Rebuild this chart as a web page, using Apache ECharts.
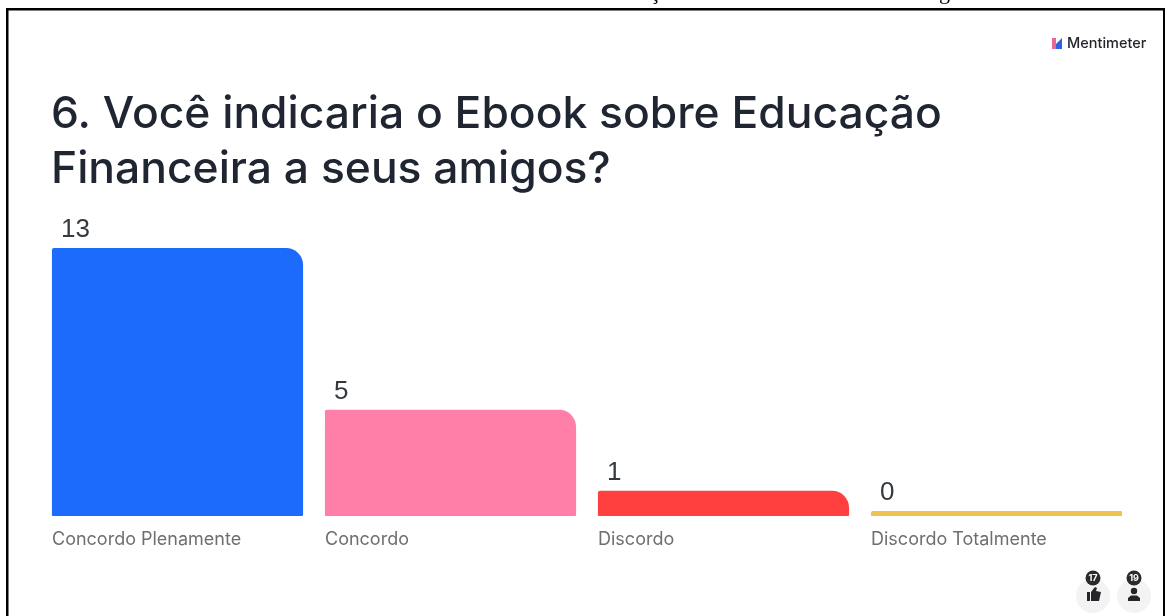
<!DOCTYPE html>
<html lang="pt-BR">
<head>
<meta charset="utf-8">
<title>Mentimeter</title>
<style>
  html, body { margin: 0; padding: 0; background: #fff; }
  #chart { width: 1166px; height: 616px; }
</style>
</head>
<body>
<div id="chart"></div>
<script src="https://cdn.jsdelivr.net/npm/echarts@6/dist/echarts.min.js"></script>
<script>
// Survey answers
const categories = ['Concordo Plenamente', 'Concordo', 'Discordo', 'Discordo Totalmente'];
const votes = [13, 5, 1, 0];
const barColors = ['#1c6bfd', '#ff7fa8', '#ff403e', '#f0c350'];
const questionTitle = '6. Você indicaria o Ebook sobre Educação\nFinanceira a seus amigos?';
const brandName = 'Mentimeter';
const reactionCount = '17';
const participantCount = '19';

const chart = echarts.init(document.getElementById('chart'), null, { renderer: 'canvas' });

// Bars rest slightly below zero so that a zero answer still shows a thin strip.
const AXIS_FLOOR = -0.25;

function renderAnswerBar(params, api) {
  const idx = api.value(0);
  const value = api.value(1);
  const top = api.coord([idx, value]);
  const base = api.coord([idx, AXIS_FLOOR]);
  const width = api.size([1, 0])[0] * 0.92;
  const left = top[0] - width / 2;
  const height = base[1] - top[1];
  const radius = value === 0 ? 1 : 17;
  return {
    type: 'group',
    children: [
      {
        type: 'rect',
        shape: { x: left, y: top[1], width: width, height: height, r: [2, radius, 1, 1] },
        style: { fill: barColors[idx] }
      },
      {
        type: 'text',
        style: {
          x: left + 9,
          y: top[1] - 18,
          text: String(value),
          fill: '#333a40',
          font: '400 26px "Liberation Sans", Arial, sans-serif',
          textAlign: 'left',
          textVerticalAlign: 'middle'
        }
      }
    ]
  };
}

chart.setOption({
  animation: false,
  backgroundColor: '#ffffff',
  title: {
    text: questionTitle,
    left: 46,
    top: 82,
    textStyle: {
      fontFamily: 'Inter',
      fontWeight: 500,
      fontSize: 44.4,
      lineHeight: 55,
      color: '#1f2531'
    }
  },
  grid: { left: 41, width: 1092, top: 248, height: 268, containLabel: false },
  xAxis: {
    type: 'category',
    data: categories,
    axisLine: { show: false },
    axisTick: { show: false },
    axisLabel: {
      margin: 15,
      interval: 0,
      formatter: (name) => '{cat|' + name + '}',
      rich: {
        cat: {
          width: 251,
          align: 'left',
          fontFamily: 'Inter',
          fontSize: 18,
          color: '#6e6f72'
        }
      }
    }
  },
  yAxis: { type: 'value', min: AXIS_FLOOR, max: 13, show: false },
  series: [
    {
      type: 'custom',
      renderItem: renderAnswerBar,
      encode: { x: 0, y: 1 },
      data: votes.map((v, i) => [i, v]),
      clip: false
    }
  ],
  graphic: [
    // Page frame
    { type: 'rect', shape: { x: 6, y: 8, width: 2.5, height: 608 }, style: { fill: '#000' } },
    { type: 'rect', shape: { x: 6, y: 8, width: 1158, height: 2.5 }, style: { fill: '#000' } },
    { type: 'rect', shape: { x: 1163, y: 8, width: 2, height: 608 }, style: { fill: '#000' } },
    // Descenders of the caption above the frame
    { type: 'text', style: { x: 650, y: -7, text: 'ç', fill: '#000', font: '22px "Liberation Serif"', textVerticalAlign: 'middle' } },
    { type: 'text', style: { x: 939, y: -7, text: 'g', fill: '#000', font: '22px "Liberation Serif"', textVerticalAlign: 'middle' } },
    // Brand mark and name
    { type: 'polygon', shape: { points: [[1052, 38], [1056, 38], [1056, 49], [1052, 49]] }, style: { fill: '#e8688f' } },
    { type: 'polygon', shape: { points: [[1056, 44], [1062, 38], [1062, 49], [1056, 49]] }, style: { fill: '#2c63e0' } },
    { type: 'text', style: { x: 1067, y: 44, text: brandName, fill: '#24262b', font: '500 14.5px Inter', textVerticalAlign: 'middle' } },
    // Reactions badge
    { type: 'circle', shape: { cx: 1093, cy: 596, r: 17 }, style: { fill: '#f3f3f4' } },
    { type: 'circle', shape: { cx: 1093, cy: 578, r: 7.5 }, style: { fill: '#2b2b2e' } },
    { type: 'text', style: { x: 1093, y: 578, text: reactionCount, fill: '#fff', font: '700 9px Inter', textAlign: 'center', textVerticalAlign: 'middle' } },
    { type: 'rect', shape: { x: 1087, y: 592, width: 3, height: 9 }, style: { fill: '#26262a' } },
    { type: 'polygon', shape: { points: [[1091, 592], [1095, 587], [1097, 588], [1096, 591], [1101, 592], [1099, 601], [1091, 601]] }, style: { fill: '#26262a' } },
    // Participants badge
    { type: 'circle', shape: { cx: 1134, cy: 596, r: 17 }, style: { fill: '#f3f3f4' } },
    { type: 'circle', shape: { cx: 1134, cy: 578, r: 7.5 }, style: { fill: '#2b2b2e' } },
    { type: 'text', style: { x: 1134, y: 578, text: participantCount, fill: '#fff', font: '700 9px Inter', textAlign: 'center', textVerticalAlign: 'middle' } },
    { type: 'circle', shape: { cx: 1134, cy: 591, r: 3.2 }, style: { fill: '#26262a' } },
    { type: 'polygon', shape: { points: [[1128, 601], [1128, 598], [1131, 595.5], [1137, 595.5], [1140, 598], [1140, 601]] }, style: { fill: '#26262a' } }
  ]
});
</script>
</body>
</html>
